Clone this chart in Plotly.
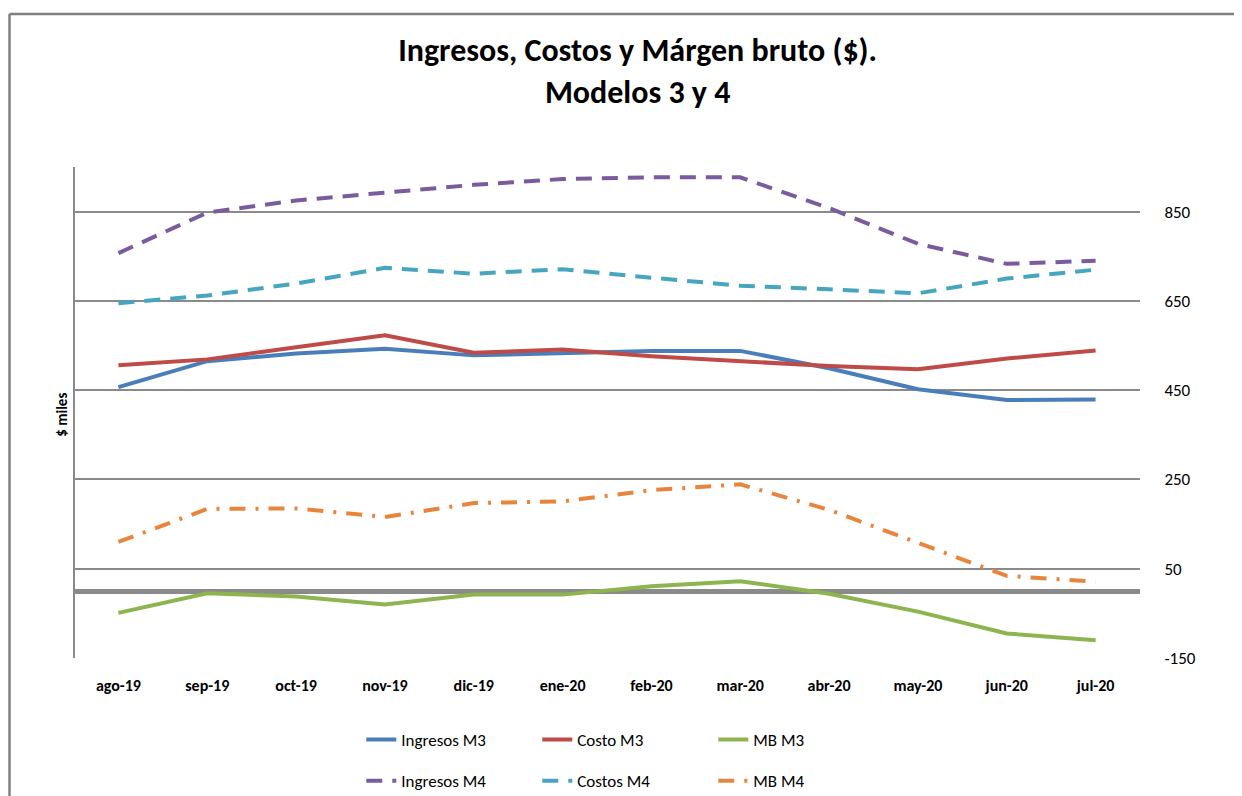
import plotly.graph_objects as go

categories = ["ago-19", "sep-19", "oct-19", "nov-19", "dic-19", "ene-20",
              "feb-20", "mar-20", "abr-20", "may-20", "jun-20", "jul-20"]

ingresos_m3 = [457, 515, 532, 543, 528, 534, 538, 538, 499, 452, 428, 429]
costo_m3 = [506, 519, 546, 573, 534, 541, 526, 514, 504, 497, 521, 539]
mb_m3 = [-49, -5, -12, -30, -8, -8, 11, 22, -6, -46, -95, -110]
ingresos_m4 = [757, 848, 875, 892, 910, 923, 927, 927, 858, 778, 733, 740]
costos_m4 = [645, 662, 689, 724, 711, 721, 702, 684, 676, 667, 700, 720]
mb_m4 = [110, 184, 185, 166, 197, 201, 226, 239, 182, 109, 34, 21]

y_ticks = [-150, 50, 250, 450, 650, 850]
y_tick_labels = ["-150", "50", "250", "450", "650", "850"]

FONT = "Carlito, Lato, 'Open Sans', sans-serif"
GRID = "#8a8a8a"

series = [
    ("Ingresos M3", ingresos_m3, "#4A7EBB", "solid", "legend"),
    ("Costo M3", costo_m3, "#BE4B48", "solid", "legend"),
    ("MB M3", mb_m3, "#8DB44F", "solid", "legend"),
    ("Ingresos M4", ingresos_m4, "#7A5C9E", "16px,10px", "legend2"),
    ("Costos M4", costos_m4, "#46A5BF", "16px,10px", "legend2"),
    ("MB M4", mb_m4, "#E8853D", "16px,10px,3px,10px", "legend2"),
]

fig = go.Figure()
for name, vals, color, dash, leg in series:
    fig.add_trace(go.Scatter(
        x=categories, y=vals, name=name, mode="lines",
        line=dict(color=color, width=4, dash=dash),
        legend=leg,
    ))

fig.update_layout(
    width=1242, height=796,
    margin=dict(l=66, r=110, t=159, b=146, autoexpand=False),
    paper_bgcolor="white", plot_bgcolor="white",
    font=dict(family=FONT, color="black"),
    title=dict(
        text="<b>Ingresos, Costos y Márgen bruto ($).<br>Modelos 3 y 4</b>",
        x=0.507, xanchor="center", y=0.933, yanchor="top",
        font=dict(size=32, family=FONT, color="black"),
    ),
    xaxis=dict(
        type="category", range=[-0.5, 11.5],
        showgrid=False, showline=False, zeroline=False,
        ticks="outside", ticklen=13, tickcolor="rgba(0,0,0,0)",
        tickfont=dict(size=16, family=FONT, color="black", weight="bold"),
    ),
    yaxis=dict(
        side="right", range=[-150, 950],
        tickmode="array", tickvals=y_ticks, ticktext=y_tick_labels,
        showgrid=True, gridcolor=GRID, gridwidth=1.5,
        zeroline=True, zerolinecolor=GRID, zerolinewidth=5,
        showline=False,
        ticks="outside", ticklen=20, tickcolor="rgba(0,0,0,0)",
        tickfont=dict(size=17, family=FONT, color="black"),
    ),
    legend=dict(
        orientation="h", x=0.2695, xanchor="left", y=-0.167, yanchor="middle",
        entrywidth=131, entrywidthmode="pixels",
        font=dict(size=17, family=FONT, color="black"),
        bgcolor="rgba(0,0,0,0)",
    ),
    legend2=dict(
        orientation="h", x=0.2695, xanchor="left", y=-0.251, yanchor="middle",
        entrywidth=131, entrywidthmode="pixels",
        font=dict(size=17, family=FONT, color="black"),
        bgcolor="rgba(0,0,0,0)",
    ),
    annotations=[dict(
        text="<b>$ miles</b>", textangle=-90, xref="paper", yref="paper",
        x=-0.0115, y=0.495, xanchor="center", yanchor="middle", showarrow=False,
        font=dict(size=15, family=FONT, color="black"),
    )],
    shapes=[
        # left value-axis line
        dict(type="line", xref="paper", yref="paper", x0=0, x1=0, y0=0, y1=1,
             line=dict(color=GRID, width=2)),
        # chart frame (top and left)
        dict(type="line", xref="paper", yref="paper", x0=-0.0605, x1=1.2, y0=1.3116, y1=1.3116,
             line=dict(color="#808080", width=2.5)),
        dict(type="line", xref="paper", yref="paper", x0=-0.0605, x1=-0.0605, y0=-0.4, y1=1.3116,
             line=dict(color="#808080", width=2.5)),
    ],
)

fig.write_html("out.html")
